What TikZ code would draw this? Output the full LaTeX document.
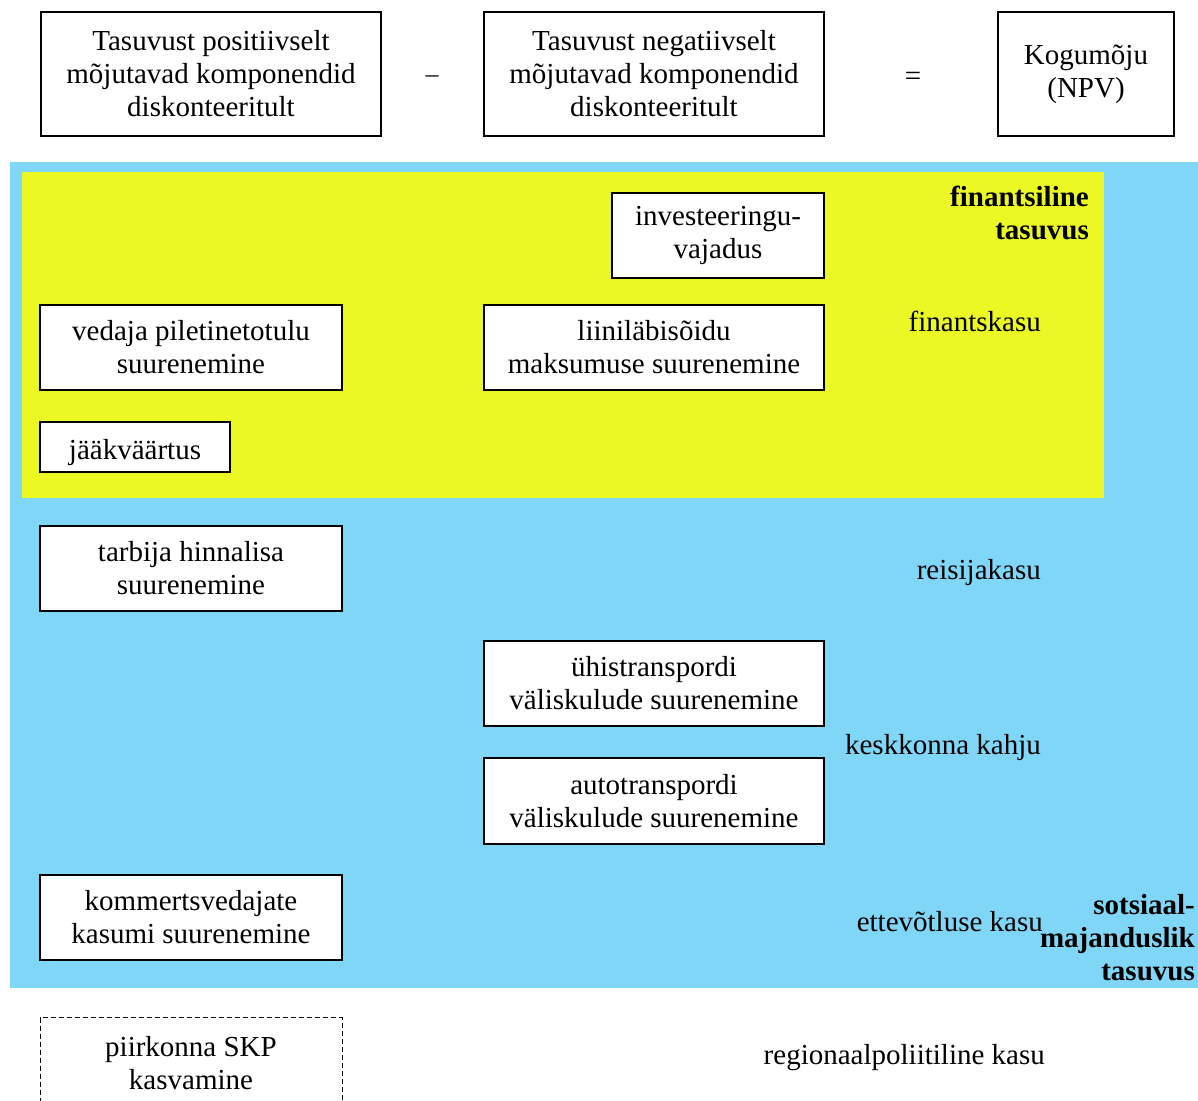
\documentclass[tikz,border=0pt]{standalone}
\usepackage{fontspec}
\setmainfont{Liberation Serif}
\definecolor{skyblue}{RGB}{128,214,246}
\definecolor{lemon}{RGB}{235,248,35}
\tikzset{
  box/.style={draw=black, line width=1.1pt, fill=white, align=center, inner sep=0pt,
    execute at begin node={\rule{0pt}{31.5pt}}},
  dbox/.style={draw=black, line width=1pt, dash pattern=on 5pt off 3pt, align=center, inner sep=0pt},
  lbl/.style={anchor=east, align=right, inner sep=0pt, yshift=-1.5pt},
  blbl/.style={anchor=east, align=right, inner sep=0pt, yshift=-1pt, font=\fontsize{29}{33}\selectfont\bfseries},
}
\begin{document}
\begin{tikzpicture}[x=1pt, y=-1pt, font=\fontsize{29}{33}\selectfont]
\useasboundingbox (0,0) rectangle (1198,1100);
% backgrounds
\fill[skyblue] (10,162) rectangle (1198,988);
\fill[lemon] (22,172) rectangle (1104,498);
% top row
\node[box, minimum width=340pt, minimum height=124pt] (pos) at (211,74) {Tasuvust positiivselt\\mõjutavad komponendid\\diskonteeritult};
\node[inner sep=0pt] (minus) at (432,79) {\fontsize{26}{28}\selectfont –};
\node[box, minimum width=340pt, minimum height=124pt] (neg) at (654,74) {Tasuvust negatiivselt\\mõjutavad komponendid\\diskonteeritult};
\node[inner sep=0pt] (eq) at (913,79) {=};
\node[box, minimum width=176pt, minimum height=124pt] (npv) at (1086,74) {Kogumõju\\(NPV)};
% financial area
\node[blbl] (fin) at (1089,212) {finantsiline\\tasuvus};
\node[box, minimum width=212pt, minimum height=85pt] (inv) at (718,235.5) {investeeringu-\\vajadus};
\node[box, minimum width=302pt, minimum height=85pt] (ved) at (191,347.5) {vedaja piletinetotulu\\suurenemine};
\node[box, minimum width=340pt, minimum height=85pt] (lii) at (654,347.5) {liiniläbisõidu\\maksumuse suurenemine};
\node[lbl] (fk) at (1041,320) {finantskasu};
\node[box, minimum width=190pt, minimum height=50pt] (jaak) at (135,447) {jääkväärtus};
% socio-economic area
\node[box, minimum width=302pt, minimum height=85pt] (tar) at (191,568.5) {tarbija hinnalisa\\suurenemine};
\node[lbl] (rk) at (1041,571) {reisijakasu};
\node[box, minimum width=340pt, minimum height=85pt] (uhis) at (654,683.5) {ühistranspordi\\väliskulude suurenemine};
\node[box, minimum width=340pt, minimum height=86pt] (auto) at (654,801) {autotranspordi\\väliskulude suurenemine};
\node[lbl] (kk) at (1041,746) {keskkonna kahju};
\node[box, minimum width=302pt, minimum height=85pt] (kom) at (191,917.5) {kommertsvedajate\\kasumi suurenemine};
\node[lbl] (ek) at (1043,920) {ettevõtluse kasu};
\node[blbl] (sm) at (1195,937) {sotsiaal-\\majanduslik\\tasuvus};
% regional
\node[dbox, minimum width=302pt, minimum height=100pt, anchor=north] (skp) at (191,1017) {};
\node[inner sep=0pt, align=center, yshift=-1.5pt] (skpt) at (191,1062) {piirkonna SKP\\kasvamine};
\node[lbl] (rp) at (1045,1056) {regionaalpoliitiline kasu};
\end{tikzpicture}
\end{document}
